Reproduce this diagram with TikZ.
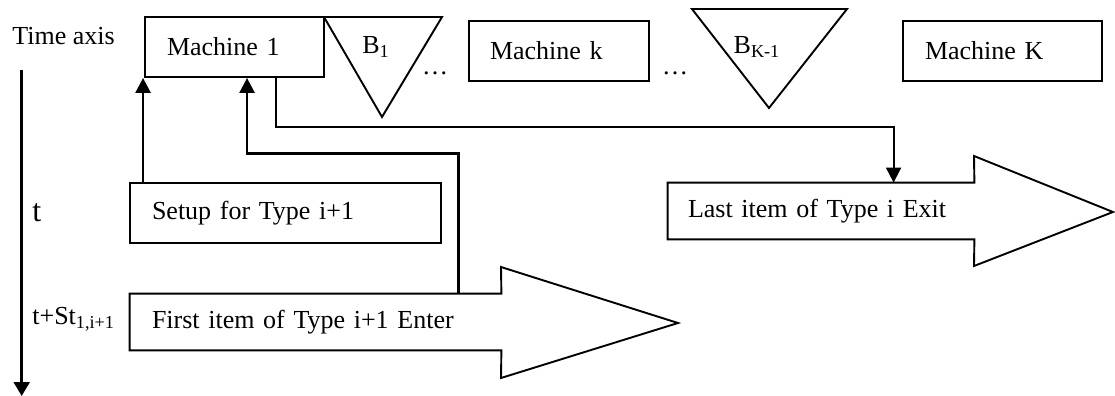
\documentclass[tikz,border=0pt]{standalone}
\usepackage{fontspec}
\setmainfont{Liberation Serif}
\usetikzlibrary{arrows.meta}
\begin{document}
\begin{tikzpicture}[x=0.5pt,y=-0.5pt,
  txt/.style={font=\fontsize{13}{15}\selectfont, inner sep=0pt},
  box/.style={txt, draw, line width=0.95pt, rectangle, minimum height=30pt, align=left},
  body/.style={txt, rectangle, minimum height=28pt, align=left},
  outline/.style={draw, line width=0.95pt, line join=miter},
  boldconn/.style={line width=1.25pt, -{Triangle[length=7.5pt,width=7.5pt]}},
  thinconn/.style={line width=0.9pt, -{Triangle[length=7.5pt,width=7.5pt]}},
]
\useasboundingbox (0,0) rectangle (1115,396);

% machines and setup
\node[box, minimum width=89.5pt, inner xsep=11pt, text width=67.5pt] (m1) at (234.5,47) {Machine 1};
\node[box, minimum width=90pt, inner xsep=10.5pt, text width=69pt] (mk) at (559,51) {Machine k};
\node[box, minimum width=99.5pt, inner xsep=11pt, text width=77.5pt] (mK) at (1002.5,51) {Machine K};
\node[box, minimum width=155.5pt, inner xsep=11pt, text width=133.5pt] (setup) at (285.5,213) {Setup for Type i+1};

% buffers
\draw[outline] (324,17) -- (442,17) -- (382,117) -- cycle;
\draw[outline] (692,9) -- (847,9) -- (769,108) -- cycle;
\node[txt] (b1) at (376,47) {B\textsubscript{1}};
\node[txt] (bk) at (757,47) {B\textsubscript{K-1}};
\node[txt, anchor=base] (d1) at (435,74) {…};
\node[txt, anchor=base] (d2) at (675,74) {…};

% big arrows
\node[body, minimum width=185.5pt, inner xsep=11pt, text width=163.5pt] (first) at (315.5,322) {First item of Type i+1 Enter};
\draw[outline] (first.north west) -- (first.north east) -- (501,267) -- (678,323) -- (501,378) -- (first.south east) -- (first.south west) -- cycle;
\node[body, minimum width=153pt, inner xsep=10pt, text width=133pt] (last) at (821,211) {Last item of Type i Exit};
\draw[outline] (last.north west) -- (last.north east) -- (974,156) -- (1113,212) -- (974,266) -- (last.south east) -- (last.south west) -- cycle;

% time axis
\node[txt, anchor=west] (tax) at (12,36) {Time axis};
\coordinate (axtop) at (21.7,70);
\coordinate (axbot) at (21.7,396);
\draw[line width=1.25pt, -{Triangle[length=7pt,width=8pt]}] (axtop) -- (axbot);
\node[txt, font=\fontsize{16}{18}\selectfont, anchor=west] (tl) at (32,213) {t};
\node[txt, anchor=west] (tst) at (32,319) {t+St\textsubscript{1,i+1}};

% connectors
\draw[boldconn] ([xshift=7pt]setup.north west) -- ([xshift=7pt]setup.north west |- m1.south);
\draw[boldconn] ([xshift=164.5pt]first.north west) -- ++(0,70pt) -| ([xshift=51.5pt]m1.south west);
\draw[thinconn] ([xshift=66pt]m1.south west) -- ++(0,-24.5pt) -| ([xshift=113pt]last.north west);
\end{tikzpicture}
\end{document}
